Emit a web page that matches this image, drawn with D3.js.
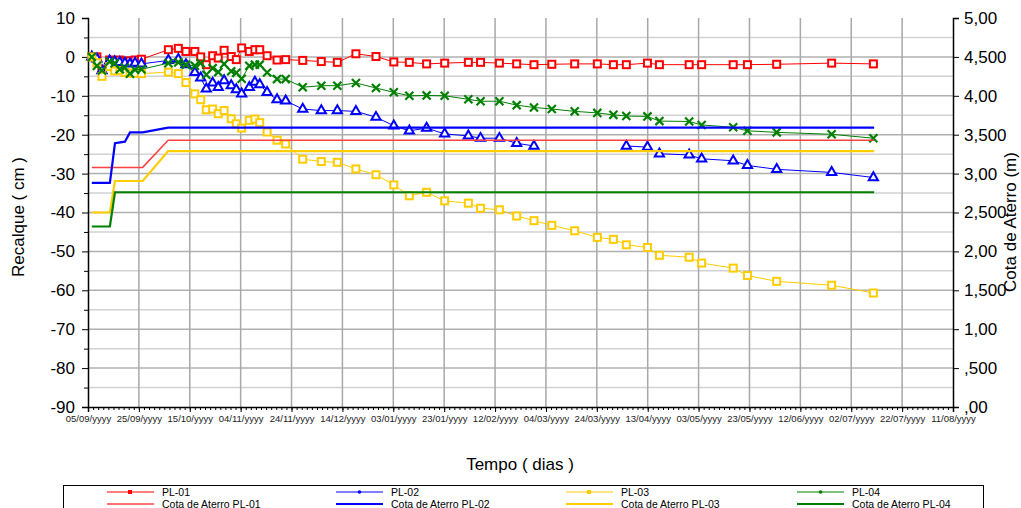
<!DOCTYPE html>
<html><head><meta charset="utf-8">
<script src="https://cdn.jsdelivr.net/npm/d3@7"></script>
<style>
body{margin:0;background:#fff;}
text{font-family:"Liberation Sans",Arial,sans-serif;}
</style></head>
<body><svg id="c" width="1021" height="508"></svg>
<script>
// ---- data ----
const xTickLabels = ["05/09/yyyy","25/09/yyyy","15/10/yyyy","04/11/yyyy","24/11/yyyy","14/12/yyyy","03/01/yyyy","23/01/yyyy","12/02/yyyy","04/03/yyyy","24/03/yyyy","13/04/yyyy","03/05/yyyy","23/05/yyyy","12/06/yyyy","02/07/yyyy","22/07/yyyy","11/08/yyyy"];
const leftTicks = [10,0,-10,-20,-30,-40,-50,-60,-70,-80,-90];
const rightTicks = [5,4.5,4,3.5,3,2.5,2,1.5,1,0.5,0];
const rightTickLabels = ["5,00","4,500","4,00","3,500","3,00","2,500","2,00","1,500","1,00",",500",",00"];

// days since 05/09
const days = [1.5,3.5,5.5,8.5,10.5,12.5,14.5,16.5,18.5,21,
  31.6,35.5,38.5,42,44.3,46.5,49,51.2,53.5,56.3,58.3,60.4,63.4,65.6,67.5,70.4,74.3,77.7,84.4,91.7,98,105.3,113.2,120.2,126.3,133.1,140.2,149.5,154.3,161.7,168.5,175.3,182.3,191.3,200.2,206.5,211.6,219.9,224.6,236.3,241.2,253.6,259.2,270.7,292.3,308.7];
const pl01 = [0,0,-3.2,-0.8,-1.2,-0.8,-1.2,-1,-0.8,-0.6,
  1.85,2.2,1.4,1.4,0,-2,0.3,-0.3,1.7,0.1,-0.7,2.3,1.4,1.85,1.85,0.3,-0.8,-0.7,-0.9,-1.2,-1.4,0.8,0.1,-1.3,-1.4,-1.8,-1.6,-1.4,-1.4,-1.6,-1.8,-2,-1.9,-1.8,-1.8,-2,-2,-1.6,-2,-2,-2,-2,-2,-1.9,-1.6,-1.8];
const pl02 = [0,-0.5,-3.5,-1,-1.2,-1.4,-1.6,-1.8,-1.6,-1.8,
  -0.9,-0.6,-2,-4,-5.4,-8.2,-6.7,-7.8,-6.1,-7.4,-8.4,-9.5,-7.8,-6.5,-7.1,-9.1,-11,-11.3,-13.4,-13.8,-13.8,-14,-15.5,-17.7,-19,-18.3,-19.8,-20.3,-20.9,-20.9,-22.2,-22.9,null,null,null,null,-22.9,-23.2,-24.9,-25.2,-26.2,-26.7,-27.9,-28.9,-29.7,-31];
const pl03 = [0,-1.5,-5,-2.5,-3.6,-3.5,-4,-4.2,-4.2,-4.3,
  -3.9,-4.3,-6.6,-9.5,-11,-13.6,-13.4,-14.6,-13.8,-15.9,-17.2,-18.3,-16.3,-16,-16.9,-19.3,-21.4,-22.4,-26.3,-26.9,-27.1,-28.8,-30.3,-32.9,-35.7,-34.8,-37,-37.6,-38.9,-39.3,-40.9,-42.1,-43.3,-44.7,-46.4,-46.9,-48.3,-49,-51,-51.5,-53,-54.3,-56.2,-57.7,-58.7,-60.7];
const pl04 = [0,-2.3,-3.5,-1.2,-1.6,-3.2,-2.8,-4.3,-3.3,-3.2,
  -1.6,-1.4,-2,-2.3,-1.6,-4.6,-2.9,-3.9,-1.8,-3.7,-4.1,-5.6,-2.3,-2,-2,-4,-5.7,-5.7,-7.8,-7.4,-7.4,-6.7,-8,-9.1,-10,-9.9,-10,-10.9,-11.4,-11.4,-12.4,-13,-13.4,-14,-14.4,-14.9,-15.2,-15.3,-16.5,-16.6,-17.5,-18.1,-19,-19.4,-19.9,-20.9];

const cotaDays1 = [1.5,21.5,31.5,309], cota1 = [3.08,3.08,3.43,3.43];
const cotaDays2 = [1.5,8.6,10.6,14.5,16.5,21.5,31.5,309], cota2 = [2.88,2.88,3.39,3.41,3.53,3.53,3.59,3.59];
const cotaDays3 = [1.5,8.6,10.6,21.5,31.5,309], cota3 = [2.5,2.5,2.905,2.905,3.29,3.29];
const cotaDays4 = [1.5,8.6,10.6,309], cota4 = [2.32,2.32,2.76,2.76];

// ---- chart ----
const svg = d3.select("#c");
const L=88,R=953,T=18,B=407;
const x = d3.scaleLinear().domain([0,340]).range([L,R]);
const yL = d3.scaleLinear().domain([-90,10]).range([B,T]);
const yR = d3.scaleLinear().domain([0,5]).range([B,T]);

// gridlines
const g = svg.append("g");
d3.range(-85,10,5).forEach(v=>{
  g.append("line").attr("x1",L).attr("x2",R).attr("y1",yL(v)).attr("y2",yL(v))
   .attr("stroke", v%10===0 ? "#b0b0b0" : "#d2d2d2").attr("stroke-width",1.5);
});
d3.range(20,340,20).forEach(d=>{
  g.append("line").attr("x1",x(d)).attr("x2",x(d)).attr("y1",T).attr("y2",B)
   .attr("stroke","#a8a8a8").attr("stroke-width",1.5);
});

// axes
const axL = svg.append("g").attr("transform",`translate(${L},0)`)
  .call(d3.axisLeft(yL).tickValues(leftTicks).tickSize(6).tickFormat(d=>d));
axL.selectAll("text").attr("font-size",17).attr("fill","#000").attr("dx",-4);
const axLm = svg.append("g").attr("transform",`translate(${L},0)`)
  .call(d3.axisLeft(yL).tickValues(d3.range(-85,10,10)).tickSize(4).tickFormat(""));
axLm.select(".domain").remove();

const axR = svg.append("g").attr("transform",`translate(${R},0)`)
  .call(d3.axisRight(yR).tickValues(rightTicks).tickSize(6).tickFormat((d,i)=>rightTickLabels[i]));
axR.selectAll("text").attr("font-size",17).attr("fill","#000").attr("dx",2);

const axBm = svg.append("g").attr("transform",`translate(0,${B})`)
  .call(d3.axisBottom(x).tickValues(d3.range(0,341,2)).tickSize(3).tickFormat(""));
axBm.select(".domain").remove();
const axB = svg.append("g").attr("transform",`translate(0,${B})`)
  .call(d3.axisBottom(x).tickValues(d3.range(0,341,20)).tickSize(5).tickFormat((d,i)=>xTickLabels[i]));
axB.selectAll("text").attr("font-size",9.5).attr("fill","#222").attr("y",8);
svg.selectAll(".domain").attr("stroke","#000").attr("stroke-width",1.5);
svg.selectAll(".tick line").attr("stroke","#000");

// series
const series = [
  {name:"PL-01", vals:pl01, color:"#ff0000", mk:"square"},
  {name:"PL-02", vals:pl02, color:"#0000ff", mk:"triangle"},
  {name:"PL-03", vals:pl03, color:"#ffcc00", mk:"square"},
  {name:"PL-04", vals:pl04, color:"#008000", mk:"x"}
];
const cotas = [
  {name:"Cota de Aterro PL-01", d:cotaDays1, v:cota1, color:"#ff4040", w:1.5},
  {name:"Cota de Aterro PL-02", d:cotaDays2, v:cota2, color:"#0000ff", w:2.2},
  {name:"Cota de Aterro PL-03", d:cotaDays3, v:cota3, color:"#ffcc00", w:2.2},
  {name:"Cota de Aterro PL-04", d:cotaDays4, v:cota4, color:"#008000", w:2.2}
];

const line = d3.line().defined(d=>d[1]!==null).x(d=>x(d[0])).y(d=>yL(d[1]));
function drawMarker(sel, mk, color, size){
  if(mk==="square"){
    sel.append("rect").attr("x",-size/2).attr("y",-size/2).attr("width",size).attr("height",size)
      .attr("fill","#fff").attr("stroke",color).attr("stroke-width",2);
  } else if(mk==="triangle"){
    sel.append("path").attr("d",d3.symbol(d3.symbolTriangle, size*size*0.75)())
      .attr("fill","#fff").attr("stroke",color).attr("stroke-width",2);
  } else {
    sel.append("path").attr("d",d3.symbol(d3.symbolX, size*size*0.9)())
      .attr("fill","none").attr("stroke",color).attr("stroke-width",2.2);
  }
}
series.forEach(s=>{
  const pts = days.map((d,i)=>[d,s.vals[i]]);
  svg.append("path").datum(pts).attr("d",line).attr("fill","none").attr("stroke",s.color).attr("stroke-width",1);
  pts.filter(p=>p[1]!==null).forEach(p=>{
    const m = svg.append("g").attr("transform",`translate(${x(p[0])},${yL(p[1])})`);
    drawMarker(m, s.mk, s.color, 7);
  });
});
cotas.forEach(c=>{
  const pts = c.d.map((d,i)=>[d,c.v[i]]);
  svg.append("path").datum(pts)
    .attr("d",d3.line().x(d=>x(d[0])).y(d=>yR(d[1])))
    .attr("fill","none").attr("stroke",c.color).attr("stroke-width",c.w);
});

// titles
svg.append("text").attr("transform","translate(24,217) rotate(-90)").attr("text-anchor","middle")
  .attr("font-size",17).text("Recalque ( cm )");
svg.append("text").attr("transform","translate(1016,222) rotate(-90)").attr("text-anchor","middle")
  .attr("font-size",17).text("Cota de Aterro (m)");
svg.append("text").attr("x",520).attr("y",470).attr("text-anchor","middle")
  .attr("font-size",17).text("Tempo ( dias )");

// legend
const lg = svg.append("g");
lg.append("rect").attr("x",63.5).attr("y",485.5).attr("width",920).attr("height",30)
  .attr("fill","#fff").attr("stroke","#000").attr("stroke-width",1);
const cols = [107,336,566,797];
series.forEach((s,i)=>{
  const x0 = cols[i];
  lg.append("line").attr("x1",x0).attr("x2",x0+47).attr("y1",492).attr("y2",492).attr("stroke",s.color).attr("stroke-width",1.2);
  if(s.mk==="square") lg.append("rect").attr("x",x0+21).attr("y",490).attr("width",4).attr("height",4).attr("fill",s.color);
  else lg.append("circle").attr("cx",x0+23.5).attr("cy",492).attr("r",1.8).attr("fill",s.color);
  lg.append("text").attr("x",x0+55).attr("y",495.5).attr("font-size",10.5).text(s.name);
  const c = cotas[i];
  lg.append("line").attr("x1",x0).attr("x2",x0+47).attr("y1",504).attr("y2",504).attr("stroke",c.color).attr("stroke-width",c.w);
  lg.append("text").attr("x",x0+55).attr("y",507.5).attr("font-size",10.5).text(c.name);
});
</script></body></html>
